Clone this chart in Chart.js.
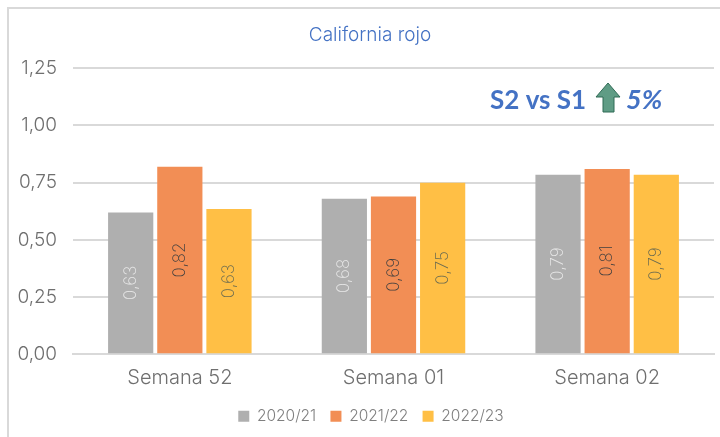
<!DOCTYPE html>
<html><head><meta charset="utf-8">
<style>
html,body{margin:0;padding:0;background:#fff;overflow:hidden}
#frame{position:absolute;left:7px;top:7px;width:720px;height:440px;border-left:2px solid #d9d9d9;border-top:2px solid #d9d9d9}
#wrap{position:absolute;left:0;top:0;width:720px;height:437px}
</style>
<script src="https://cdn.jsdelivr.net/npm/chart.js@4"></script>
</head><body>
<div id="frame"></div>
<div id="wrap"><canvas id="c" width="720" height="437"></canvas></div>
<script>
const categories = ["Semana 52","Semana 01","Semana 02"];
const seriesNames = ["2020/21","2021/22","2022/23"];
const values2021 = [0.62,0.68,0.785];
const values2122 = [0.82,0.69,0.81];
const values2223 = [0.635,0.75,0.785];
const labels2021 = ["0,63","0,68","0,79"];
const labels2122 = ["0,82","0,69","0,81"];
const labels2223 = ["0,63","0,75","0,79"];
const tickLabels = {"0":"0,00","0.25":"0,25","0.5":"0,50","0.75":"0,75","1":"1,00","1.25":"1,25"};
const FONT = "Inter, 'Open Sans', sans-serif";
const BOLD = "Lato, 'Open Sans', sans-serif";

const barLabels = {
  id:'barLabels',
  afterDatasetsDraw(chart){
    const ctx = chart.ctx;
    chart.data.datasets.forEach((ds,i)=>{
      chart.getDatasetMeta(i).data.forEach((bar,j)=>{
        const y = (bar.y + bar.base)/2;
        ctx.save();
        ctx.translate(bar.x,y);
        ctx.rotate(-Math.PI/2);
        ctx.font = "200 17px "+FONT;
        ctx.fillStyle = ds.labelColor;
        ctx.textAlign='center';ctx.textBaseline='middle';
        ctx.fillText(ds.valueLabels[j],0,0);
        ctx.restore();
      });
    });
  }
};
const callout = {
  id:'callout',
  afterLayout(chart){
    chart.titleBlock.left+=16;
    chart.legend.left+=9;
    chart.legend.right+=9;
  },
  afterDraw(chart){
    const ctx = chart.ctx;
    ctx.save();
    ctx.fillStyle='#4472c4';
    ctx.textBaseline='alphabetic';
    ctx.font="700 26px "+BOLD;
    ctx.fillText("S2 vs S1",490,109);
    ctx.font="italic 700 27px "+BOLD;
    ctx.fillText("5%",626,109);
    ctx.beginPath();
    ctx.moveTo(608,83);ctx.lineTo(596,97);ctx.lineTo(603,97);ctx.lineTo(603,112);
    ctx.lineTo(614,112);ctx.lineTo(614,97);ctx.lineTo(620,97);ctx.closePath();
    ctx.fillStyle='#5f9c85';ctx.strokeStyle='#2f6b55';ctx.lineWidth=1;ctx.fill();ctx.stroke();
    ctx.restore();
  }
};
new Chart(document.getElementById('c'),{
  type:'bar',
  data:{labels:categories,datasets:[
    {label:seriesNames[0],data:values2021,backgroundColor:'#afafaf',valueLabels:labels2021,labelColor:'#e8e8e8'},
    {label:seriesNames[1],data:values2122,backgroundColor:'#f28e55',valueLabels:labels2122,labelColor:'#3f3f3f'},
    {label:seriesNames[2],data:values2223,backgroundColor:'#ffbf45',valueLabels:labels2223,labelColor:'#6b6b50'}
  ]},
  plugins:[barLabels,callout],
  options:{
    responsive:false,animation:false,
    layout:{padding:{left:10,right:6,top:20,bottom:3}},
    plugins:{
      tooltip:{enabled:false},
      title:{display:true,text:"California rojo",color:'#4472c4',font:{family:FONT,size:19,weight:'300'},padding:{top:4,bottom:21.5}},
      legend:{position:'bottom',labels:{boxWidth:11,boxHeight:11,color:'#7f7f7f',font:{family:FONT,size:15.5,weight:'300'},padding:14.25}}
    },
    scales:{
      x:{grid:{display:false},border:{color:'#d9d9d9',width:2},
         ticks:{color:'#6f6f6f',font:{family:FONT,size:20,weight:'300'},padding:4}},
      y:{min:0,max:1.25,grid:{color:'#d9d9d9',lineWidth:2,drawTicks:false},border:{display:false},
         afterFit(s){s.width=63;},
         afterBuildTicks(a){a.ticks=Object.keys(tickLabels).map(Number).sort((p,q)=>p-q).map(v=>({value:v}));},
         ticks:{color:'#6f6f6f',font:{family:FONT,size:19,weight:'300'},padding:16,callback:v=>tickLabels[String(v)]}}
    },
    datasets:{bar:{categoryPercentage:0.69,barPercentage:0.92}}
  }
});
</script>
</body></html>
